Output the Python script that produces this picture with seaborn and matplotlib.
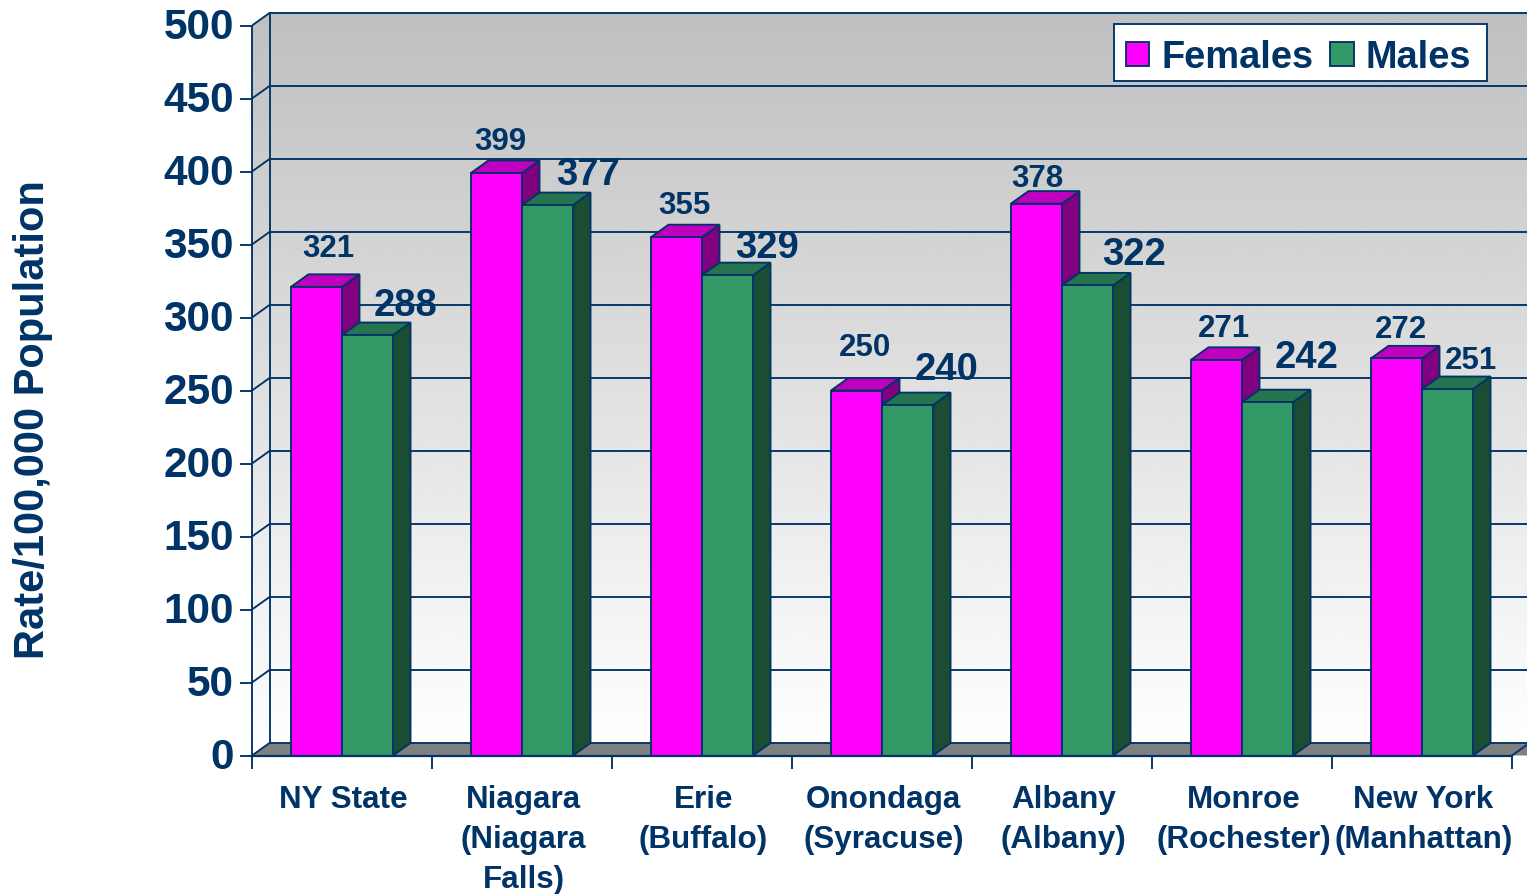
import numpy as np
import pandas as pd
import matplotlib
matplotlib.use("Agg")
import matplotlib.pyplot as plt
import seaborn as sns
from matplotlib.patches import Patch, Polygon, Rectangle
from matplotlib.transforms import ScaledTranslation

places = ["NY State", "Niagara\n(Niagara\nFalls)", "Erie\n(Buffalo)", "Onondaga\n(Syracuse)",
          "Albany\n(Albany)", "Monroe\n(Rochester)", "New York\n(Manhattan)"]
females = [321, 399, 355, 250, 378, 271, 272]
males = [288, 377, 329, 240, 322, 242, 251]
yticks = list(range(0, 501, 50))

# label placement relative to bar top, pixels
f_off = [(12, 38), (4, 31), (8, 31), (9, 42), (1, 25), (7, 31), (4, 28)]
m_off = [(38, 29), (41, 30), (40, 27), (39, 35), (47, 30), (39, 44), (23, 28)]
f_size = [22.5, 22.5, 22.5, 22.5, 22.5, 22.5, 22.5]
m_size = [27.5, 27.5, 27.5, 27.5, 27.5, 27.5, 22.5]

NAVY = "#003366"
PINK, GREEN = "#FF00FF", "#339966"
PINK_TOP, PINK_SIDE = "#BF00BF", "#800080"
GREEN_TOP, GREEN_SIDE = "#267350", "#1A4D33"

W, H = 1527, 894
PX_Y = 1.46       # pixels per unit
PX_X = 180.0      # pixels per category
DX = 17.5 / PX_X  # depth of the 3d box
DY = 12.5 / PX_Y
LW = 1.35

sns.set_theme(style="white")
plt.rcParams["font.family"] = ["Liberation Sans", "DejaVu Sans"]
plt.rcParams["font.weight"] = "bold"

df = pd.DataFrame({"place": places * 2,
                   "rate": females + males,
                   "sex": ["Females"] * 7 + ["Males"] * 7})

fig = plt.figure(figsize=(W / 100, H / 100), dpi=100)
ax = fig.add_axes([252 / W, (H - 755.5) / H, (W - 252) / W, (755.5 - 10) / H])
ax.patch.set_visible(False)

sns.barplot(data=df, x="place", y="rate", hue="sex", palette=[PINK, GREEN], saturation=1,
            width=0.567, gap=0, edgecolor=NAVY, linewidth=LW, legend=False, ax=ax, zorder=5)

x0, x1 = -0.5, -0.5 + (W - 252) / PX_X
ymax = (755.5 - 10) / PX_Y
top = yticks[-1]

# walls
grad = np.linspace(0.75, 1, 256).reshape(-1, 1)
ax.imshow(grad, extent=[x0 + DX, x1, DY, top + DY], aspect="auto", cmap="gray", vmin=0, vmax=1, zorder=0)
side = ax.imshow(grad, extent=[x0, x0 + DX, 0, top + DY], aspect="auto", cmap="gray", vmin=0, vmax=1, zorder=0)
clip = Polygon([(x0, 0), (x0 + DX, DY), (x0 + DX, top + DY), (x0, top)], transform=ax.transData)
side.set_clip_path(clip)
ax.add_patch(Polygon([(x0, 0), (x0 + DX, DY), (x1 + DX, DY), (x1, 0)], fc="#808080", ec="none", zorder=1))

# grid on back wall and side wall
for v in yticks:
    ax.plot([x0, x0 + DX, x1], [v, v + DY, v + DY], color=NAVY, lw=LW, zorder=2, solid_joinstyle="miter")
ax.plot([x0 + DX, x0 + DX], [DY, top + DY], color=NAVY, lw=LW, zorder=2)
ax.plot([6.5, 6.5 + DX], [0, DY], color=NAVY, lw=LW, zorder=2)

# 3d faces and labels for each bar
for cont, top_c, side_c, vals, offs, sizes, z in [
        (ax.containers[0], PINK_TOP, PINK_SIDE, females, f_off, f_size, 3),
        (ax.containers[1], GREEN_TOP, GREEN_SIDE, males, m_off, m_size, 4)]:
    for p, v, off, fs in zip(cont.patches, vals, offs, sizes):
        a, b = p.get_x(), p.get_x() + p.get_width()
        h = p.get_height()
        ax.add_patch(Polygon([(b, 0), (b + DX, DY), (b + DX, h + DY), (b, h)],
                             fc=side_c, ec=NAVY, lw=LW, zorder=z))
        ax.add_patch(Polygon([(a, h), (a + DX, h + DY), (b + DX, h + DY), (b, h)],
                             fc=top_c, ec=NAVY, lw=LW, zorder=z))
        ax.annotate(str(v), xy=((a + b) / 2, h), xytext=(off[0] * 0.72, off[1] * 0.72),
                    textcoords="offset points", ha="center", va="center", color=NAVY,
                    fontsize=fs, fontweight="bold", zorder=10)

ax.set_xlim(x0, x1)
ax.set_ylim(0, ymax)

ax.set_yticks(yticks)
ax.set_yticklabels([str(v) for v in yticks], fontsize=30.5, fontweight="bold", color=NAVY)
ax.tick_params(axis="y", length=9, width=LW, color=NAVY, pad=4, left=True)
shift = ScaledTranslation(0, 2 / 100, fig.dpi_scale_trans)
for t in ax.get_yticklabels():
    t.set_transform(t.get_transform() + shift)
ax.set_xticks(np.arange(0, 8) - 0.5, labels=[""] * 8)
ax.tick_params(axis="x", which="major", length=9, width=LW, color=NAVY, bottom=True)
ax.set_xticks(np.arange(7), labels=places, minor=True, fontsize=22.6, fontweight="bold", color=NAVY,
              linespacing=1.44)
ax.tick_params(axis="x", which="minor", length=0, pad=21)
shift_x = ScaledTranslation(1.5 / 100, 0, fig.dpi_scale_trans)
for t in ax.get_xticklabels(minor=True):
    t.set_transform(t.get_transform() + shift_x)
ax.set_xlabel("")
ax.set_ylabel("")

sns.despine(ax=ax, top=True, right=True)
ax.spines["left"].set_bounds(0, top)
ax.spines["left"].set_color(NAVY)
ax.spines["left"].set_linewidth(LW)
ax.spines["bottom"].set_bounds(-0.5, 6.5)
ax.spines["bottom"].set_color(NAVY)
ax.spines["bottom"].set_linewidth(1.6)
ax.spines["bottom"].set_zorder(6)

fig.text(33 / W, 1 - 420 / H, "Rate/100,000 Population", rotation=90, ha="center", va="center",
         fontsize=30, fontweight="bold", color=NAVY)

# legend box drawn apart so the text can sit lower in it
ax.add_patch(Rectangle((1114 / W, 1 - 81 / H), 373 / W, 57 / H, transform=fig.transFigure,
                       fc="white", ec=NAVY, lw=LW, clip_on=False, zorder=8))
leg = ax.legend(handles=[Patch(fc=PINK, ec=NAVY, lw=LW, label="Females"),
                         Patch(fc=GREEN, ec=NAVY, lw=LW, label="Males")],
                ncol=2, loc="lower left", bbox_to_anchor=(1114.5 / W, 1 - 87 / H),
                bbox_transform=fig.transFigure, borderaxespad=0, frameon=False,
                prop={"size": 27.4, "weight": "bold"},
                handlelength=0.61, handleheight=0.61, handletextpad=0.32, columnspacing=0.45,
                borderpad=0.3, labelcolor=NAVY)
leg.set_zorder(9)

fig.savefig("out.png", dpi=100)
